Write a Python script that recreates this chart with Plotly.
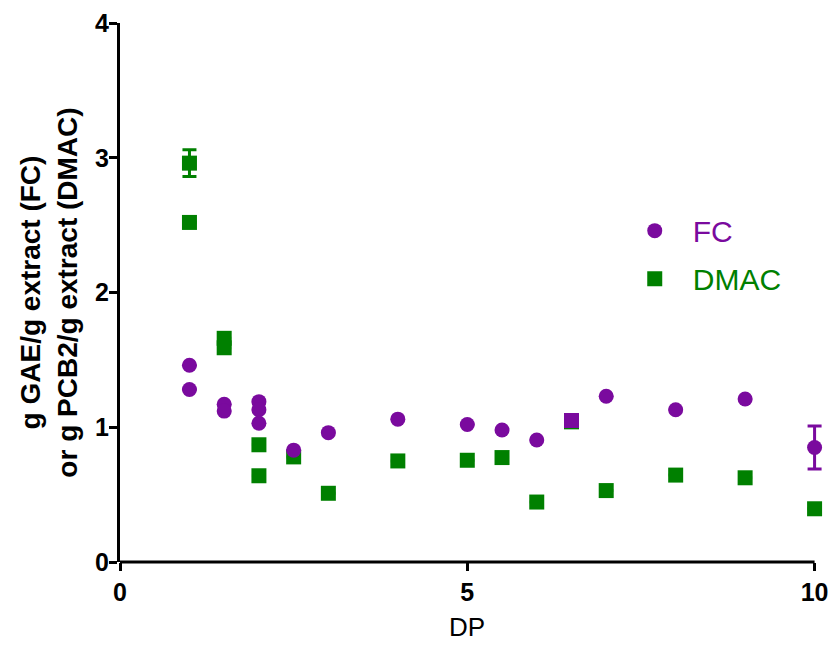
import plotly.graph_objects as go

# FC (Folin-Ciocalteu) series
fc_x = [1, 1, 1.5, 1.5, 2, 2, 2, 2.5, 3, 4, 5, 5.5, 6, 6.5, 7, 8, 9, 10]
fc_y = [1.46, 1.28, 1.17, 1.12, 1.19, 1.13, 1.03, 0.83, 0.96, 1.06, 1.02, 0.98, 0.905, 1.05, 1.23, 1.13, 1.21, 0.85]
fc_err = [0, 0, 0, 0, 0, 0, 0, 0, 0, 0, 0, 0, 0, 0, 0, 0, 0, 0.16]

# DMAC series
dmac_x = [1, 1, 1.5, 1.5, 2, 2, 2.5, 3, 4, 5, 5.5, 6, 6.5, 7, 8, 9, 10]
dmac_y = [2.96, 2.52, 1.66, 1.59, 0.87, 0.64, 0.78, 0.51, 0.75, 0.755, 0.775, 0.445, 1.04, 0.53, 0.645, 0.625, 0.395]
dmac_err = [0.1, 0, 0, 0, 0, 0, 0, 0, 0, 0, 0, 0, 0, 0, 0, 0, 0]

x_ticks = [0, 5, 10]
y_ticks = [0, 1, 2, 3, 4]
x_max = 10
y_max = 4

PURPLE = "#7a0a9e"
GREEN = "#008000"

fc_symbols = ["square" if x == 6.5 else "circle" for x in fc_x]

fig = go.Figure()
fig.add_trace(go.Scatter(
    x=dmac_x, y=dmac_y, mode="markers", name=f"<span style='color:{GREEN}'>DMAC</span>",
    marker=dict(symbol="square", size=15, color=GREEN),
    error_y=dict(type="data", array=dmac_err, color=GREEN, thickness=3, width=7),
    legendrank=2, legendgroup="dmac", cliponaxis=False,
))
fig.add_trace(go.Scatter(
    x=fc_x, y=fc_y, mode="markers", name=f"<span style='color:{PURPLE}'>FC</span>",
    marker=dict(symbol=fc_symbols, size=15, color=PURPLE),
    error_y=dict(type="data", array=fc_err, color=PURPLE, thickness=3, width=7),
    legendrank=1, legendgroup="fc", cliponaxis=False,
))

# x axis line drawn only from 0 to x_max (plot area extends slightly so the end error bar is not clipped)
fig.add_shape(type="line", xref="x", yref="paper", x0=0, x1=x_max, y0=0, y1=0,
              line=dict(color="black", width=3), layer="above")

axis_font = dict(family="Liberation Sans, Arial, sans-serif", size=25, color="black")

fig.update_layout(
    width=830, height=646,
    margin=dict(l=120, r=4.6, t=23, b=84),
    plot_bgcolor="white", paper_bgcolor="white",
    font=dict(family="Liberation Sans, Arial, sans-serif", color="black"),
    showlegend=True,
    legend=dict(
        x=0.7046, y=0.663, xanchor="left", yanchor="top",
        font=dict(size=30), itemwidth=66,
        traceorder="grouped", tracegroupgap=6, bgcolor="rgba(0,0,0,0)",
    ),
    xaxis=dict(
        range=[0, x_max * 1.015], tickvals=x_ticks, ticktext=[f"<b>{t}</b>" for t in x_ticks],
        showgrid=False, zeroline=False, showline=False,
        ticks="outside", ticklen=8, tickwidth=3, tickcolor="black", tickfont=axis_font,
        automargin=False,
    ),
    yaxis=dict(
        range=[0, y_max], tickvals=y_ticks, ticktext=[f"<b>{t}</b>" for t in y_ticks],
        showgrid=False, zeroline=False, showline=True, linecolor="black", linewidth=3,
        ticks="outside", ticklen=8, tickwidth=3, tickcolor="black", tickfont=axis_font,
        ticklabelstandoff=-5,
        automargin=False,
        title=dict(text="<b>g GAE/g extract (FC)<br>or g PCB2/g extract (DMAC)</b>",
                   font=dict(size=28, color="black"), standoff=10),
    ),
    annotations=[dict(text="DP", x=x_max / 2, xref="x", y=-0.1205, yref="paper",
                      xanchor="center", yanchor="middle", showarrow=False,
                      font=dict(size=26, color="black"))],
)

fig.write_html("out.html", config={"displayModeBar": False},
               post_script="document.body.style.margin='0';document.body.style.overflow='hidden';")
